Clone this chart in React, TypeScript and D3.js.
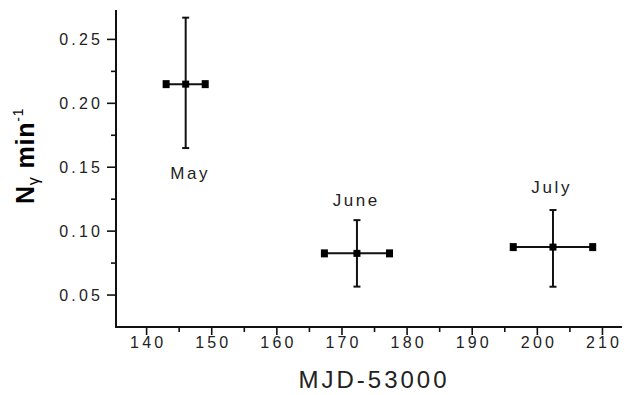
import React from "react";
import * as d3 from "d3";

const months = ["May", "June", "July"];
const mjd = [146.0, 172.3, 202.4];
const xErr = [3.0, 5.0, 6.1];
const rate = [0.215, 0.0826, 0.0875];
const yErrUp = [0.052, 0.026, 0.029];
const yErrDown = [0.050, 0.026, 0.031];
const labelX = [146.5, 172.0, 202.0];
const labelY = [0.141, 0.120, 0.130];
const xTicks = [140, 150, 160, 170, 180, 190, 200, 210];
const xMinorTicks = [145, 155, 165, 175, 185, 195, 205];
const yTicks = [0.05, 0.1, 0.15, 0.2, 0.25];
const yMinorTicks = [0.075, 0.125, 0.175, 0.225];

const W = 625;
const H = 395;
const FONT = "'Liberation Sans', Arial, Helvetica, sans-serif";

export default function App() {
  const x = d3.scaleLinear().domain([135.3, 213]).range([116, 622]);
  const y = d3.scaleLinear().domain([0.025, 0.273]).range([327, 10]);
  const ink = "#111";

  return (
    <svg
      width={W}
      height={H}
      style={{ position: "absolute", left: 0, top: 0, background: "#fff" }}
    >
      {/* axes lines */}
      <line x1={x.range()[0]} x2={x.range()[0]} y1={y.range()[1]} y2={y.range()[0] + 1} stroke={ink} strokeWidth={2} />
      <line x1={x.range()[0] - 1} x2={x.range()[1]} y1={y.range()[0]} y2={y.range()[0]} stroke={ink} strokeWidth={2} />

      {/* y ticks */}
      {yTicks.map((t) => (
        <g key={"yt" + t}>
          <line x1={116 - 9} x2={116} y1={y(t)} y2={y(t)} stroke={ink} strokeWidth={1.6} />
          <text
            x={100}
            y={y(t)}
            dy="0.36em"
            textAnchor="end"
            fontFamily={FONT}
            fontSize={16}
            letterSpacing={3.2}
            dx={3.2}
            fill="#222"
          >
            {d3.format(".2f")(t)}
          </text>
        </g>
      ))}
      {yMinorTicks.map((t) => (
        <line key={"ym" + t} x1={116 - 5} x2={116} y1={y(t)} y2={y(t)} stroke={ink} strokeWidth={1.6} />
      ))}

      {/* x ticks */}
      {xTicks.map((t) => (
        <g key={"xt" + t}>
          <line x1={x(t)} x2={x(t)} y1={327} y2={327 + 8} stroke={ink} strokeWidth={1.6} />
          <text
            x={x(t)}
            y={348}
            textAnchor="middle"
            fontFamily={FONT}
            fontSize={16}
            letterSpacing={3.2}
            dx={1.6}
            fill="#222"
          >
            {t}
          </text>
        </g>
      ))}
      {xMinorTicks.map((t) => (
        <line key={"xm" + t} x1={x(t)} x2={x(t)} y1={327} y2={327 + 5} stroke={ink} strokeWidth={1.6} />
      ))}

      {/* axis titles */}
      <text
        x={374}
        y={388}
        textAnchor="middle"
        fontFamily={FONT}
        fontSize={24}
        letterSpacing={3}
        fill="#222"
      >
        MJD-53000
      </text>
      <text
        transform="translate(34,204) rotate(-90)"
        textAnchor="start"
        fontFamily={FONT}
        fontSize={25}
        fontWeight="bold"
        letterSpacing={0.8}
        fill="#000"
      >
        N
        <tspan fontSize={16} fontWeight="normal" dy={5}>γ</tspan>
        <tspan dy={-5}> min</tspan>
        <tspan fontSize={14} fontWeight="normal" dy={-11}>-1</tspan>
      </text>

      {/* data with error bars */}
      {months.map((m, i) => {
        const cx = x(mjd[i]);
        const cy = y(rate[i]);
        const xl = x(mjd[i] - xErr[i]);
        const xr = x(mjd[i] + xErr[i]);
        const yt = y(rate[i] + yErrUp[i]);
        const yb = y(rate[i] - yErrDown[i]);
        return (
          <g key={m}>
            <line x1={cx} x2={cx} y1={yt} y2={yb} stroke={ink} strokeWidth={2} />
            <line x1={cx - 3.5} x2={cx + 3.5} y1={yt} y2={yt} stroke={ink} strokeWidth={2} />
            <line x1={cx - 3.5} x2={cx + 3.5} y1={yb} y2={yb} stroke={ink} strokeWidth={2} />
            <line x1={xl} x2={xr} y1={cy} y2={cy} stroke={ink} strokeWidth={2} />
            <rect x={xl - 3.5} y={cy - 4} width={7} height={8} fill="#000" />
            <rect x={xr - 3.5} y={cy - 4} width={7} height={8} fill="#000" />
            <rect x={cx - 3.5} y={cy - 3.5} width={7} height={7} fill="#000" />
            <text
              x={x(labelX[i])}
              y={y(labelY[i])}
              textAnchor="middle"
              fontFamily={FONT}
              fontSize={17}
              letterSpacing={2.6}
              dx={1.3}
              fill="#222"
            >
              {m}
            </text>
          </g>
        );
      })}
    </svg>
  );
}
